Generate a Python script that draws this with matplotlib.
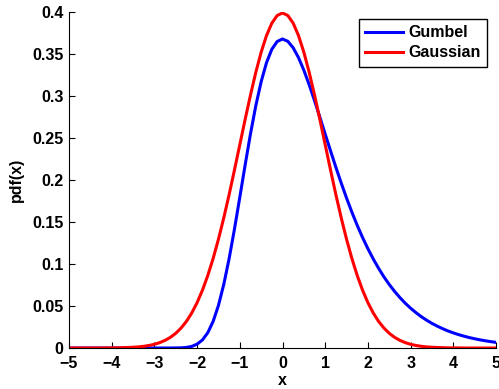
import numpy as np
import matplotlib.pyplot as plt

# x grid (read at 0.125 steps)
x = np.linspace(-5, 5, 81)

# Gumbel curve (-5 .. 5)
gumbel = [0.0] * 20 + [
    0.0001, 0.0002, 0.0007, 0.0019, 0.0046, 0.0096, 0.0182, 0.0316,
    0.0507, 0.0758, 0.1064, 0.1416, 0.1794, 0.2179, 0.2549, 0.2885,
    0.3170, 0.3396, 0.3556, 0.3649, 0.3679, 0.3651, 0.3574, 0.3457,
    0.3307, 0.3134, 0.2945, 0.2748, 0.2546, 0.2347, 0.2151, 0.1964,
    0.1785, 0.1617, 0.1460, 0.1315, 0.1182, 0.1060, 0.0949, 0.0847,
    0.0756, 0.0674, 0.0600, 0.0533, 0.0474, 0.0421, 0.0373, 0.0331,
    0.0293, 0.0260, 0.0230, 0.0203, 0.0180, 0.0159, 0.0141, 0.0124,
    0.0110, 0.0097, 0.0086, 0.0076, 0.0067]

# Gaussian curve (0 .. 5, mirrored)
gauss_half = [0.3989, 0.3958, 0.3867, 0.3719, 0.3521, 0.3282, 0.3011, 0.2721,
              0.2420, 0.2119, 0.1826, 0.1550, 0.1295, 0.1065, 0.0863, 0.0688,
              0.0540, 0.0417, 0.0317, 0.0238, 0.0175, 0.0127, 0.0091, 0.0064,
              0.0044, 0.0030, 0.0020, 0.0013, 0.0009, 0.0006, 0.0004, 0.0002,
              0.0001, 0.0001, 0.0, 0.0, 0.0, 0.0, 0.0, 0.0, 0.0]
gaussian = gauss_half[::-1] + gauss_half[1:]

xticks = [-5, -4, -3, -2, -1, 0, 1, 2, 3, 4, 5]
yticks = [0, 0.05, 0.1, 0.15, 0.2, 0.25, 0.3, 0.35, 0.4]

plt.rcParams['font.family'] = ['Liberation Sans', 'DejaVu Sans']
plt.rcParams['font.weight'] = 'bold'

fig = plt.figure(figsize=(4.99, 3.89), dpi=100)
ax = fig.add_axes([69 / 499, 1 - 348 / 389, (496 - 69) / 499, (348 - 12) / 389])

ax.plot(x, gumbel, color="blue", lw=2.2, label="Gumbel")
ax.plot(x, gaussian, color="red", lw=2.2, label="Gaussian")

ax.set_xlim(-5, 5)
ax.set_ylim(0, 0.4)
ax.set_xticks(xticks)
ax.set_yticks(yticks)
ax.set_xticklabels([("\u2212%d" % -t) if t < 0 else "%d" % t for t in xticks])
ax.set_yticklabels(["0", "0.05", "0.1", "0.15", "0.2", "0.25", "0.3", "0.35", "0.4"])
ax.tick_params(direction="in", length=4, labelsize=11.5, width=0.8)
ax.tick_params(axis="x", pad=6)
ax.tick_params(axis="y", pad=4)
for s in ["top", "right"]:
    ax.spines[s].set_visible(False)
ax.set_xlabel("x", fontsize=11.5, fontweight="bold", labelpad=1)
ax.set_ylabel("pdf(x)", fontsize=11.5, fontweight="bold", labelpad=6)

leg = ax.legend(loc="upper right", bbox_to_anchor=(0.979, 0.979), borderaxespad=0,
                fontsize=11.5, fancybox=False, framealpha=1, edgecolor="black",
                handlelength=2.4, handletextpad=0.3, borderpad=0.4,
                labelspacing=0.3)
leg.get_frame().set_linewidth(1.0)

fig.savefig("out.png", dpi=100)
